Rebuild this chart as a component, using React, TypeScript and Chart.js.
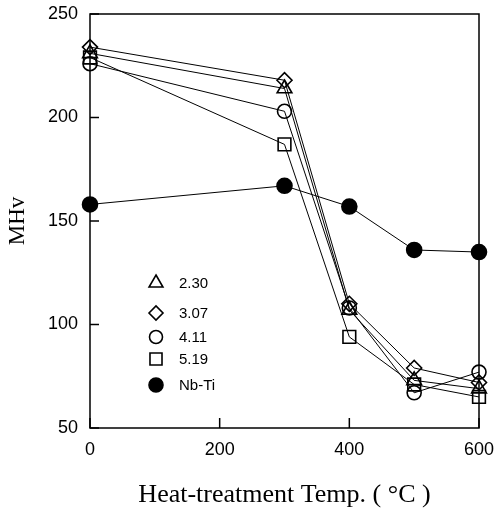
import React, { useEffect, useRef } from "react";
import { Chart, registerables } from "chart.js";
import { drawPoint } from "chart.js/helpers";

Chart.register(...registerables);

const temps = [0, 300, 400, 500, 600];
const s230 = [231, 214, 107, 73, 69];
const s307 = [234, 218, 110, 79, 72];
const s411 = [226, 203, 108, 67, 77];
const s519 = [229, 187, 94, 71, 65];
const nbti = [158, 167, 157, 136, 135];

const seriesLabels = ["2.30", "3.07", "4.11", "5.19", "Nb-Ti"];
const seriesValues = [s230, s307, s411, s519, nbti];
const pointStyles = ["triangle", "rectRot", "circle", "rect", "circle"];
const pointRadii = [8.5, 7.5, 7, 9, 7.5];
const pointFills = ["rgba(0,0,0,0)", "rgba(0,0,0,0)", "rgba(0,0,0,0)", "rgba(0,0,0,0)", "#000"];

const xTicks = [0, 200, 400, 600];
const yTicks = [50, 100, 150, 200, 250];

const xTitle = "Heat-treatment Temp. ( °C )";
const yTitle = "MHv";

const framePlugin = {
  id: "framePlugin",
  afterDraw(chart: any) {
    const { ctx, chartArea } = chart;
    const { left, right, top, bottom } = chartArea;
    ctx.save();
    ctx.strokeStyle = "#000";
    ctx.lineWidth = 1.5;
    ctx.strokeRect(left, top, right - left, bottom - top);
    const xs = chart.scales.x;
    const ys = chart.scales.y;
    xs.ticks.forEach((t: any) => {
      const px = xs.getPixelForValue(t.value);
      ctx.beginPath();
      ctx.moveTo(px, bottom);
      ctx.lineTo(px, bottom - 10);
      ctx.stroke();
    });
    ys.ticks.forEach((t: any) => {
      const py = ys.getPixelForValue(t.value);
      ctx.beginPath();
      ctx.moveTo(left, py);
      ctx.lineTo(left + 9, py);
      ctx.stroke();
    });
    ctx.restore();
  },
};

const legendPlugin = {
  id: "insideLegend",
  afterDraw(chart: any) {
    const { ctx } = chart;
    const rowsY = [283, 313, 337, 359, 385];
    const markerX = 156;
    const textX = 179;
    ctx.save();
    seriesLabels.forEach((label, i) => {
      ctx.strokeStyle = "#000";
      ctx.fillStyle = pointFills[i];
      ctx.lineWidth = 1.6;
      drawPoint(
        ctx,
        { pointStyle: pointStyles[i] as any, radius: pointRadii[i] - 0.5, rotation: 0, borderWidth: 1.6 } as any,
        markerX,
        rowsY[i]
      );
      ctx.fillStyle = "#000";
      ctx.font = "15px 'Liberation Sans', Arial, sans-serif";
      ctx.textBaseline = "middle";
      ctx.textAlign = "left";
      ctx.fillText(label, textX, rowsY[i] + 1);
    });
    ctx.restore();
  },
};

export default function App() {
  const canvasRef = useRef<HTMLCanvasElement | null>(null);

  useEffect(() => {
    const canvas = canvasRef.current;
    if (!canvas) return;
    const chart = new Chart(canvas, {
      type: "line",
      data: {
        datasets: seriesValues.map((vals, i) => ({
          label: seriesLabels[i],
          data: temps.map((t, j) => ({ x: t, y: vals[j] })),
          borderColor: "#000",
          borderWidth: 1,
          backgroundColor: pointFills[i],
          pointStyle: pointStyles[i] as any,
          pointRadius: pointRadii[i],
          pointBorderWidth: 1.6,
          pointBorderColor: "#000",
          pointBackgroundColor: pointFills[i],
          fill: false,
          tension: 0,
          clip: false as any,
        })),
      },
      options: {
        responsive: false,
        animation: false,
        devicePixelRatio: 1,
        layout: { padding: { left: 0, right: 15, top: 14, bottom: 0 } },
        plugins: {
          legend: { display: false },
          tooltip: { enabled: false },
        },
        scales: {
          x: {
            type: "linear",
            min: 0,
            max: 600,
            afterBuildTicks: (scale: any) => {
              scale.ticks = xTicks.map((v) => ({ value: v }));
            },
            ticks: {
              color: "#000",
              font: { family: "'Liberation Sans', Arial, sans-serif", size: 18 },
              padding: 11,
              maxRotation: 0,
            },
            grid: { display: false, drawTicks: false },
            border: { display: false },
            title: {
              display: true,
              text: xTitle,
              color: "#000",
              font: { family: "'Liberation Serif', 'Times New Roman', serif", size: 26 },
              padding: { top: 0, bottom: -3 },
            },
            afterFit: (scale: any) => {
              scale.height = 80;
              scale.paddingLeft = 0;
              scale.paddingRight = 0;
            },
          },
          y: {
            type: "linear",
            min: 50,
            max: 250,
            afterBuildTicks: (scale: any) => {
              scale.ticks = yTicks.map((v) => ({ value: v }));
            },
            ticks: {
              color: "#000",
              font: { family: "'Liberation Sans', Arial, sans-serif", size: 18 },
              padding: 12,
            },
            grid: { display: false, drawTicks: false },
            border: { display: false },
            title: {
              display: true,
              text: yTitle,
              color: "#000",
              font: { family: "'Liberation Serif', 'Times New Roman', serif", size: 23 },
              padding: { top: 4, bottom: 0 },
            },
            afterFit: (scale: any) => {
              scale.width = 90;
              scale.paddingTop = 0;
              scale.paddingBottom = 0;
            },
          },
        },
      },
      plugins: [framePlugin, legendPlugin],
    });
    return () => chart.destroy();
  }, []);

  return (
    <div style={{ position: "fixed", left: 0, top: 0, width: 494, height: 508, background: "#fff" }}>
      <canvas ref={canvasRef} width={494} height={508} style={{ display: "block" }} />
    </div>
  );
}
